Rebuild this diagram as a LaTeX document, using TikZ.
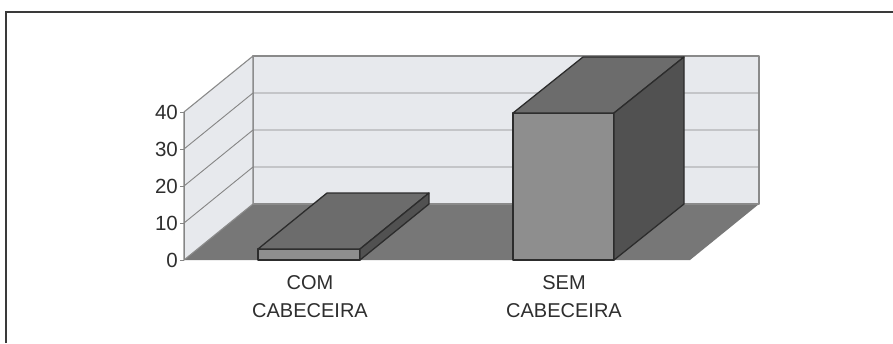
\documentclass[tikz,border=0pt]{standalone}
\usepackage{fontspec}
\setmainfont{Liberation Sans}
\begin{document}
\begin{tikzpicture}[x=1pt,y=-1pt,
  wallfill/.style={fill=wallc, draw=wallline, line width=1.1pt, line join=round},
  gridline/.style={draw=gridc, line width=0.9pt},
  baredge/.style={draw=edgec, line width=1.3pt, line join=round},
  ticklab/.style={anchor=base east, inner sep=0pt, font=\fontsize{20.5}{24}\selectfont, text=textc},
  catlab/.style={anchor=base, inner sep=0pt, font=\fontsize{20}{24}\selectfont, text=textc}]
\definecolor{wallc}{HTML}{E7E9ED}
\definecolor{wallline}{HTML}{8A8A8A}
\definecolor{gridc}{HTML}{858585}
\definecolor{floorc}{HTML}{777777}
\definecolor{frontc}{HTML}{8E8E8E}
\definecolor{topc}{HTML}{6C6C6C}
\definecolor{sidec}{HTML}{515151}
\definecolor{edgec}{HTML}{2C2C2C}
\definecolor{textc}{HTML}{2E2E2E}
\definecolor{framec}{HTML}{3A3A3A}
\useasboundingbox (0,0) rectangle (893,343);
\fill[white] (0,0) rectangle (893,343);
% frame
\draw[framec, line width=2pt] (6,343) -- (6,12) -- (893,12);
% coordinates
\coordinate (FL) at (184,260);
\coordinate (FR) at (690,260);
\coordinate (BL) at (253,204);
\coordinate (BR) at (759,204);
\coordinate (TL) at (184,112);
\coordinate (BTL) at (253,56);
\coordinate (BTR) at (759,56);
% floor
\fill[floorc] (FL) -- (FR) -- (BR) -- (BL) -- cycle;
% back wall
\filldraw[wallfill] (BL) -- (BR) -- (BTR) -- (BTL) -- cycle;
% side wall
\filldraw[wallfill] (FL) -- (BL) -- (BTL) -- (TL) -- cycle;
% gridlines
\foreach \k in {1,2,3} {
  \draw[gridline] (184,260-37*\k) -- (253,204-37*\k) -- (759,204-37*\k);
}
\draw[gridline] (FL) -- (TL);
% ticks
\foreach \k in {0,1,2,3,4} {
  \draw[gridline] (180,260-37*\k) -- (184,260-37*\k);
}
\node[ticklab] (t0) at (178,267.5) {0};
\node[ticklab] (t1) at (178,230.5) {10};
\node[ticklab] (t2) at (178,193.5) {20};
\node[ticklab] (t3) at (178,156.5) {30};
\node[ticklab] (t4) at (178,119.5) {40};
% bar 1 (COM CABECEIRA)
\filldraw[baredge, fill=frontc] (258,260) rectangle (360,249);
\filldraw[baredge, fill=topc] (258,249) -- (360,249) -- (429,193) -- (327,193) -- cycle;
\filldraw[baredge, fill=sidec] (360,260) -- (360,249) -- (429,193) -- (429,204) -- cycle;
% bar 2 (SEM CABECEIRA)
\filldraw[baredge, fill=frontc] (513,260) rectangle (614,113);
\filldraw[baredge, fill=topc] (513,113) -- (614,113) -- (684,57) -- (583,57) -- cycle;
\filldraw[baredge, fill=sidec] (614,260) -- (614,113) -- (684,57) -- (684,204) -- cycle;
% category labels
\node[catlab] (c1a) at (310,289) {COM};
\node[catlab] (c1b) at (310,317) {CABECEIRA};
\node[catlab] (c2a) at (564,289) {SEM};
\node[catlab] (c2b) at (564,317) {CABECEIRA};
\end{tikzpicture}
\end{document}
